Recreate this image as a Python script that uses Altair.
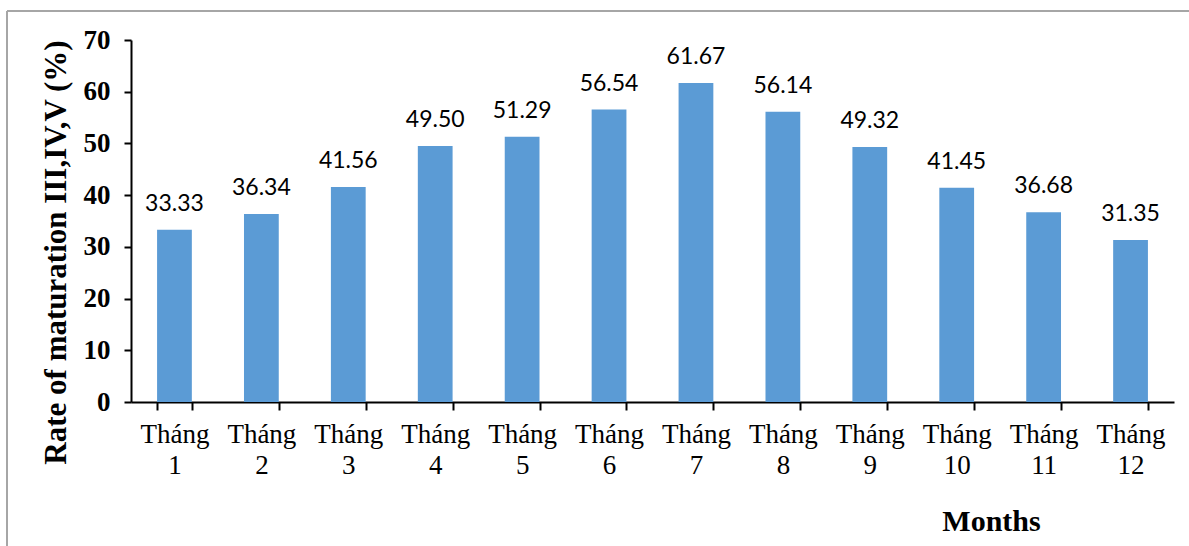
import altair as alt
import pandas as pd

# Monthly share of fish at maturation stages III, IV and V
months = ["Tháng 1", "Tháng 2", "Tháng 3", "Tháng 4", "Tháng 5", "Tháng 6",
          "Tháng 7", "Tháng 8", "Tháng 9", "Tháng 10", "Tháng 11", "Tháng 12"]
rates = [33.33, 36.34, 41.56, 49.50, 51.29, 56.54,
         61.67, 56.14, 49.32, 41.45, 36.68, 31.35]

df = pd.DataFrame({"month": months, "rate": rates})
df["label"] = [f"{v:.2f}" for v in rates]

W, H = 1043, 362
SERIF = "Liberation Serif"

x_enc = alt.X(
    "month:N",
    sort=months,
    scale=alt.Scale(paddingInner=0.6, paddingOuter=0.3),
    axis=alt.Axis(
        title="Months",
        titleFont=SERIF, titleFontSize=30, titleFontWeight="bold", titleColor="black",
        titleX=860, titleY=128, titleAlign="center", titleBaseline="alphabetic",
        titleAnchor="start",
        labelFont=SERIF, labelFontSize=27, labelColor="black",
        labelExpr="split(datum.label, ' ')", labelLineHeight=31,
        labelAngle=0, labelPadding=11,
        tickBand="extent", tickSize=8, tickWidth=2, tickColor="black",
        domainColor="black", domainWidth=2,
    ),
)

y_enc = alt.Y(
    "rate:Q",
    scale=alt.Scale(domain=[0, 70]),
    axis=alt.Axis(
        title="Rate of maturation III,IV,V (%)",
        titleFont=SERIF, titleFontSize=31, titleFontWeight="bold", titleColor="black",
        titleAngle=270, titleX=-66, titleY=212, titleAlign="center",
        titleBaseline="alphabetic", titleAnchor="start",
        values=list(range(0, 71, 10)),
        labelFont=SERIF, labelFontSize=27, labelFontWeight="bold", labelColor="black",
        labelPadding=14, grid=False,
        tickSize=7, tickWidth=2, tickColor="black",
        domainColor="black", domainWidth=2,
    ),
)

bars = alt.Chart(df).mark_bar(color="#5B9BD5").encode(x=x_enc, y=y_enc)

labels = alt.Chart(df).mark_text(
    font="Lato", fontSize=23, color="black", baseline="alphabetic", dy=-19
).encode(x=alt.X("month:N", sort=months), y="rate:Q", text="label:N")

# Frame around the figure
frame_top = alt.Chart(df).mark_rule(color="#a6a6a6", strokeWidth=1.5, clip=False).encode(
    x=alt.value(-124), x2=alt.value(1100), y=alt.value(-29)
)
frame_left = alt.Chart(df).mark_rule(color="#a6a6a6", strokeWidth=1.5, clip=False).encode(
    x=alt.value(-124), y=alt.value(-29), y2=alt.value(600)
)

chart = (
    alt.layer(bars, labels, frame_top, frame_left)
    .properties(
        width=W, height=H,
        autosize=alt.AutoSizeParams(type="none"),
        padding={"left": 131, "top": 40, "right": 15, "bottom": 144},
        background="white",
    )
    .configure_view(stroke=None)
)

chart.save("out.html", embed_options={"renderer": "svg", "actions": False})
